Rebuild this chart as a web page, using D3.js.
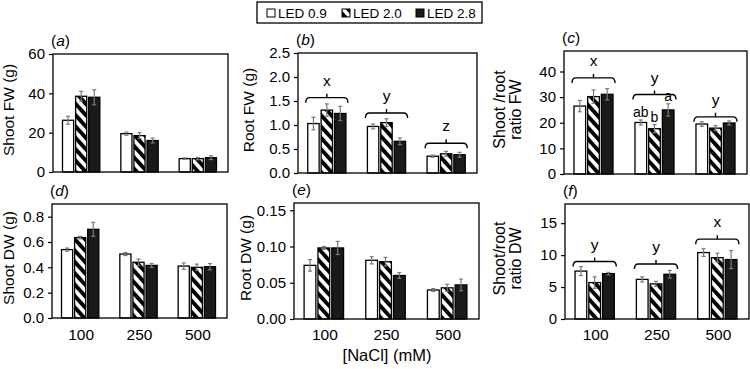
<!DOCTYPE html>
<html>
<head>
<meta charset="utf-8">
<script src="https://cdn.jsdelivr.net/npm/d3@7"></script>
<style>
  body { margin: 0; background: #fff; }
  svg { font-family: "Liberation Sans", Arial, sans-serif; }
</style>
</head>
<body>
<div id="chart"></div>
<script>
// categories
const groups = ["100", "250", "500"];
const series = ["LED 0.9", "LED 2.0", "LED 2.8"];

// means [group][series] and SE
const shootFW = [[26.3, 38.5, 38.0], [19.5, 18.5, 16.0], [6.8, 6.8, 7.3]];
const shootFWErr = [[2.0, 2.5, 3.8], [0.8, 1.5, 1.2], [0.4, 0.6, 1.0]];
const rootFW = [[1.03, 1.31, 1.24], [0.97, 1.05, 0.66], [0.35, 0.40, 0.38]];
const rootFWErr = [[0.13, 0.13, 0.15], [0.05, 0.08, 0.07], [0.02, 0.05, 0.05]];
const ratioFW = [[26.5, 30.2, 31.1], [20.1, 17.7, 25.0], [19.5, 17.9, 19.9]];
const ratioFWErr = [[2.2, 2.6, 2.2], [1.0, 1.6, 2.4], [0.9, 1.0, 0.8]];
const shootDW = [[0.54, 0.635, 0.70], [0.505, 0.44, 0.415], [0.41, 0.40, 0.405]];
const shootDWErr = [[0.012, 0.01, 0.055], [0.012, 0.025, 0.015], [0.025, 0.025, 0.025]];
const rootDW = [[0.074, 0.098, 0.098], [0.081, 0.079, 0.060], [0.040, 0.043, 0.047]];
const rootDWErr = [[0.008, 0.002, 0.009], [0.005, 0.006, 0.004], [0.002, 0.005, 0.008]];
const ratioDW = [[7.5, 5.7, 7.1], [6.2, 5.5, 7.0], [10.4, 9.6, 9.3]];
const ratioDWErr = [[0.7, 0.9, 0.2], [0.4, 0.4, 0.6], [0.6, 0.7, 1.4]];

// significance letters (groups) and bracket heights in data units
const rootFWLetters = ["x", "y", "z"];
const rootFWBracket = [1.57, 1.25, 0.62];
const ratioFWLetters = ["x", "y", "y"];
const ratioFWBracket = [37.5, 31.0, 22.3];
const ratioDWLetters = ["y", "y", "x"];
const ratioDWBracket = [9.0, 8.6, 12.5];
// letters over single bars in (c), 250 mM
const ratioFW250Letters = ["ab", "b", "a"];

// y tick values
const ticksShootFW = [0, 20, 40, 60];
const ticksRootFW = [0, 0.5, 1.0, 1.5, 2.0, 2.5];
const ticksRatioFW = [0, 10, 20, 30, 40];
const ticksShootDW = [0, 0.2, 0.4, 0.6, 0.8];
const ticksRootDW = [0, 0.05, 0.10, 0.15];
const ticksRatioDW = [0, 5, 10, 15];

const W = 750, H = 369;
const svg = d3.select("#chart").append("svg")
  .attr("width", W).attr("height", H);

// hatch pattern
const defs = svg.append("defs");
const pat = defs.append("pattern")
  .attr("id", "hatch")
  .attr("patternUnits", "userSpaceOnUse")
  .attr("width", 7.6).attr("height", 7.6)
  .attr("patternTransform", "rotate(-42)");
pat.append("rect").attr("width", 7.6).attr("height", 7.6).attr("fill", "#fff");
pat.append("rect").attr("width", 3.9).attr("height", 7.6).attr("fill", "#000");

const fills = ["#fff", "url(#hatch)", "#1a1a1a"];

const panels = [
  {id: "a", L: 53, R: 228, T: 54, B: 172, max: 60, ticks: ticksShootFW, fmt: d3.format("d"),
   vals: shootFW, err: shootFWErr, title: ["Shoot FW (g)"], tx: 14},
  {id: "b", L: 298, R: 477, T: 53, B: 173, max: 2.5, ticks: ticksRootFW, fmt: d3.format(".1f"),
   vals: rootFW, err: rootFWErr, title: ["Root FW (g)"], tx: 254,
   letters: rootFWLetters, bracket: rootFWBracket},
  {id: "c", L: 564, R: 747, T: 51, B: 174, max: 48, ticks: ticksRatioFW, fmt: d3.format("d"),
   vals: ratioFW, err: ratioFWErr, title: ["Shoot /root", "ratio FW"], tx: 505,
   letters: ratioFWLetters, bracket: ratioFWBracket, barLetters: {g: 1, l: ratioFW250Letters}},
  {id: "d", L: 52, R: 227, T: 204, B: 318, max: 0.9, ticks: ticksShootDW, fmt: d3.format(".1f"),
   vals: shootDW, err: shootDWErr, title: ["Shoot DW (g)"], tx: 14, xlab: true},
  {id: "e", L: 294, R: 479, T: 203, B: 319, max: 0.16, ticks: ticksRootDW, fmt: d3.format(".2f"),
   vals: rootDW, err: rootDWErr, title: ["Root DW (g)"], tx: 251, xlab: true},
  {id: "f", L: 565, R: 749, T: 204, B: 319, max: 18, ticks: ticksRatioDW, fmt: d3.format("d"),
   vals: ratioDW, err: ratioDWErr, title: ["Shoot/root", "ratio DW"], tx: 505, xlab: true,
   letters: ratioDWLetters, bracket: ratioDWBracket}
];

panels.forEach(p => {
  const g = svg.append("g");
  const x0 = d3.scaleBand().domain(groups).range([p.L, p.R]);
  const gw = x0.bandwidth() * 0.64;
  const x1 = d3.scaleBand().domain(series).range([0, gw]).paddingInner(0.15);
  const y = d3.scaleLinear().domain([0, p.max]).range([p.B, p.T]);
  const gx = k => x0(k) + (x0.bandwidth() - gw) / 2 - 1;

  // y axis
  const ax = g.append("g")
    .attr("transform", `translate(${p.L},0)`)
    .call(d3.axisLeft(y).tickValues(p.ticks).tickFormat(p.fmt).tickSize(4).tickPadding(4));
  ax.select(".domain").remove();
  ax.selectAll(".tick line").attr("stroke", "#000").attr("stroke-width", 1.2);
  ax.selectAll("text").attr("font-size", 15).attr("fill", "#000");

  // bars
  const cells = [];
  groups.forEach((gr, gi) => series.forEach((s, si) => {
    cells.push({gr, gi, s, si, v: p.vals[gi][si], e: p.err[gi][si]});
  }));

  g.selectAll("rect.bar").data(cells).enter().append("rect")
    .attr("class", "bar")
    .attr("x", d => gx(d.gr) + x1(d.s))
    .attr("width", x1.bandwidth())
    .attr("y", d => y(d.v))
    .attr("height", d => y(0) - y(d.v))
    .attr("fill", d => fills[d.si])
    .attr("stroke", "#000").attr("stroke-width", 1.3);

  // error bars
  const eb = g.selectAll("g.err").data(cells).enter().append("g")
    .attr("stroke", "#7a7a7a").attr("stroke-width", 1.2);
  const cx = d => gx(d.gr) + x1(d.s) + x1.bandwidth() / 2;
  eb.append("line").attr("x1", cx).attr("x2", cx)
    .attr("y1", d => y(d.v - d.e)).attr("y2", d => y(d.v + d.e));
  eb.append("line").attr("x1", d => cx(d) - 2).attr("x2", d => cx(d) + 2)
    .attr("y1", d => y(d.v + d.e)).attr("y2", d => y(d.v + d.e));
  eb.append("line").attr("x1", d => cx(d) - 2).attr("x2", d => cx(d) + 2)
    .attr("y1", d => y(d.v - d.e)).attr("y2", d => y(d.v - d.e));

  // frame
  g.append("rect")
    .attr("x", p.L).attr("y", p.T)
    .attr("width", p.R - p.L).attr("height", p.B - p.T)
    .attr("fill", "none").attr("stroke", "#000").attr("stroke-width", 1.3);

  // panel label
  const pl = g.append("text")
    .attr("x", p.L - 2).attr("y", p.T - 8)
    .attr("font-size", 15.5);
  pl.append("tspan").text("(");
  pl.append("tspan").attr("font-style", "italic").text(p.id);
  pl.append("tspan").text(")");

  // y title
  const tt = g.append("text")
    .attr("transform", `translate(${p.tx},${(p.T + p.B) / 2 - 3}) rotate(-90)`)
    .attr("text-anchor", "middle")
    .attr("font-size", p.title.length === 1 ? 15.5 : 16);
  if (p.title.length === 1) {
    tt.text(p.title[0]);
  } else {
    tt.append("tspan").attr("x", 0).attr("dy", 0).text(p.title[0]);
    tt.append("tspan").attr("x", 0).attr("dy", 16).text(p.title[1]);
  }

  // x tick labels
  if (p.xlab) {
    g.selectAll("text.xl").data(groups).enter().append("text")
      .attr("x", d => x0(d) + x0.bandwidth() / 2)
      .attr("y", 340)
      .attr("text-anchor", "middle")
      .attr("font-size", 15.5)
      .text(d => d);
  }

  // group brackets
  if (p.letters) {
    groups.forEach((gr, gi) => {
      const a = gx(gr) - 2, b = gx(gr) + gw + 2, m = (a + b) / 2;
      const yy = y(p.bracket[gi]);
      g.append("path")
        .attr("d", `M${a},${yy + 5} Q${a},${yy} ${a + 4},${yy} H${b - 4} Q${b},${yy} ${b},${yy + 5} M${m},${yy} V${yy - 4}`)
        .attr("fill", "none").attr("stroke", "#000").attr("stroke-width", 1.4);
      g.append("text")
        .attr("x", m).attr("y", yy - 12)
        .attr("text-anchor", "middle")
        .attr("font-size", 15.5)
        .text(p.letters[gi]);
    });
  }

  // letters over bars
  if (p.barLetters) {
    const gi = p.barLetters.g;
    series.forEach((s, si) => {
      const top = p.vals[gi][si] + p.err[gi][si];
      g.append("text")
        .attr("x", gx(groups[gi]) + x1(s) + x1.bandwidth() / 2)
        .attr("y", y(top) - 3)
        .attr("text-anchor", "middle")
        .attr("font-size", 14)
        .text(p.barLetters.l[si]);
    });
  }
});

// x axis title
svg.append("text")
  .attr("x", 387).attr("y", 361)
  .attr("text-anchor", "middle")
  .attr("font-size", 16.5)
  .text("[NaCl] (mM)");

// legend
const lg = svg.append("g");
lg.append("rect")
  .attr("x", 257).attr("y", 2).attr("width", 225).attr("height", 21)
  .attr("fill", "#fff").attr("stroke", "#000").attr("stroke-width", 1.3);
const legX = [267, 342, 416];
series.forEach((s, i) => {
  lg.append("rect")
    .attr("x", legX[i]).attr("y", 9).attr("width", 8).attr("height", 8)
    .attr("fill", fills[i]).attr("stroke", "#000").attr("stroke-width", 1);
  lg.append("text")
    .attr("x", legX[i] + 11).attr("y", 18)
    .attr("font-size", 13.5)
    .text(s);
});
</script>
</body>
</html>
